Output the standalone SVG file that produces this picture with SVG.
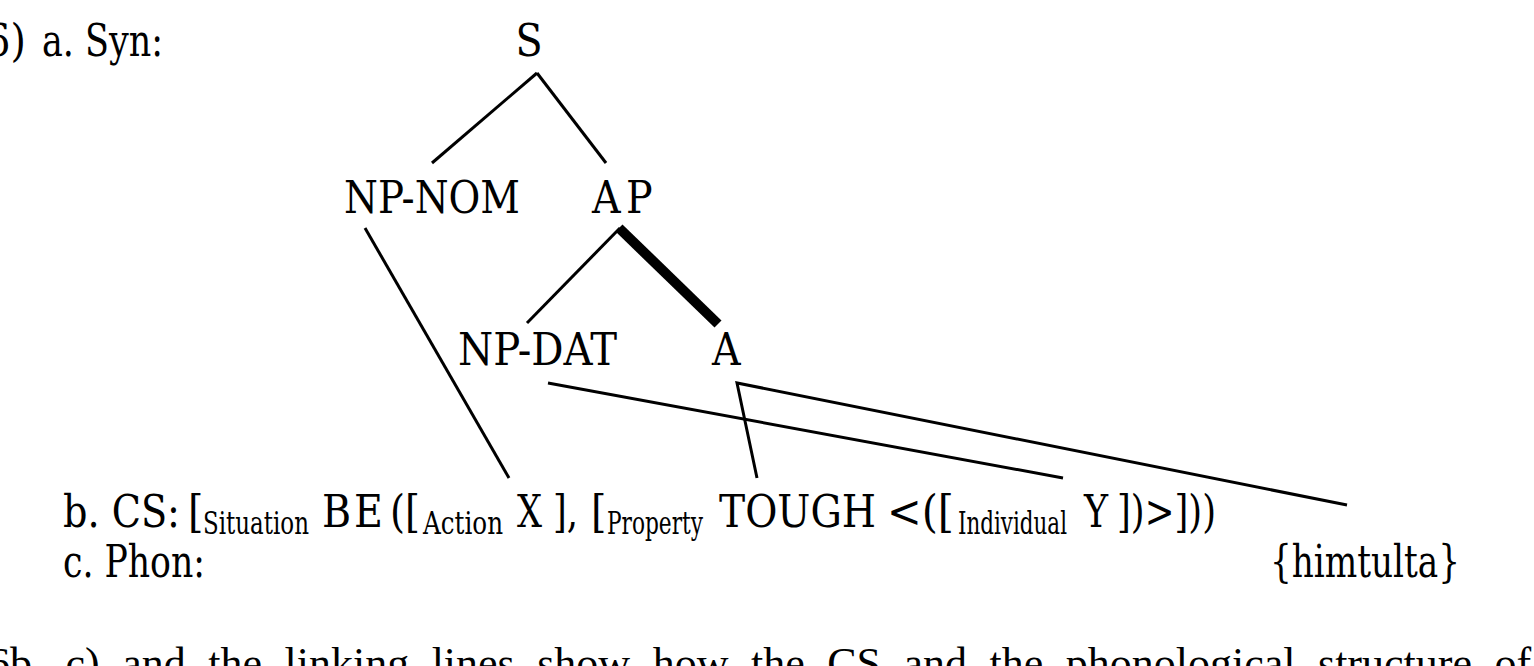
<svg xmlns="http://www.w3.org/2000/svg" width="1534" height="666" viewBox="0 0 1534 666">
<style>
.t{font-family:"DejaVu Serif Condensed","DejaVu Serif",serif;font-size:44px;fill:#000}
.s{font-family:"DejaVu Serif Condensed","DejaVu Serif",serif;font-size:31px;fill:#000}
.b{font-family:"Liberation Serif",serif;font-size:44px;fill:#000;word-spacing:11.5px}
.ln{stroke:#000;stroke-width:3;fill:none;stroke-linecap:butt}
.thick{stroke:#000;stroke-width:10;fill:none}
</style>
<rect width="1534" height="666" fill="#fff"/>
<g id="label-a">
<text class="t" x="26" y="56" text-anchor="end">6)</text>
<text class="t" x="42" y="56" textLength="121" lengthAdjust="spacingAndGlyphs">a. Syn:</text>
</g>
<g id="node-S"><text class="t" x="529" y="56" text-anchor="middle">S</text></g>
<g id="node-NPNOM"><text class="t" x="344" y="213" textLength="176" lengthAdjust="spacingAndGlyphs">NP-NOM</text></g>
<g id="node-AP"><text class="t" y="213"><tspan x="592">A</tspan><tspan x="626">P</tspan></text></g>
<g id="node-NPDAT"><text class="t" x="458" y="365" textLength="159" lengthAdjust="spacingAndGlyphs">NP-DAT</text></g>
<g id="node-A"><text class="t" x="712" y="365">A</text></g>
<g id="node-CS">
<text class="t" x="63" y="527" textLength="117" lengthAdjust="spacingAndGlyphs">b. CS:</text>
<text class="t" x="188" y="527">[</text>
<text class="s" x="203" y="534" textLength="106" lengthAdjust="spacingAndGlyphs">Situation</text>
<text class="t" y="527"><tspan x="322">B</tspan><tspan x="354">E</tspan></text>
<text class="t" x="390" y="527" textLength="30" lengthAdjust="spacingAndGlyphs">([</text>
<text class="s" x="423" y="534" textLength="80" lengthAdjust="spacingAndGlyphs">Action</text>
<text class="t" x="517" y="527" textLength="25" lengthAdjust="spacingAndGlyphs">X</text>
<text class="t" x="553" y="527" textLength="25" lengthAdjust="spacingAndGlyphs">],</text>
<text class="t" x="591" y="527">[</text>
<text class="s" x="607" y="534" textLength="96" lengthAdjust="spacingAndGlyphs">Property</text>
<text class="t" x="719" y="527" textLength="157" lengthAdjust="spacingAndGlyphs">TOUGH</text>
<text class="t" x="887" y="527" textLength="67" lengthAdjust="spacingAndGlyphs">&lt;([</text>
<text class="s" x="958" y="534" textLength="109" lengthAdjust="spacingAndGlyphs">Individual</text>
<text class="t" x="1084" y="527" textLength="24" lengthAdjust="spacingAndGlyphs">Y</text>
<text class="t" x="1117" y="527" textLength="99" lengthAdjust="spacingAndGlyphs">])&gt;]))</text>
</g>
<g id="node-Phon">
<text class="t" x="63" y="577" textLength="142" lengthAdjust="spacingAndGlyphs">c. Phon:</text>
<text class="t" x="1270" y="577" textLength="190" lengthAdjust="spacingAndGlyphs">{himtulta}</text>
</g>
<g id="connectors">
<line class="ln" x1="537" y1="73" x2="432" y2="163"/>
<line class="ln" x1="537" y1="73" x2="606" y2="163"/>
<line class="ln" x1="620" y1="228" x2="527" y2="323"/>
<line class="thick" x1="619" y1="228" x2="718" y2="324"/>
<line class="ln" x1="365" y1="228" x2="509" y2="478"/>
<line class="ln" x1="548" y1="383" x2="1063" y2="478"/>
<polyline class="ln" points="757,478 737,383 1347,505"/>
</g>
<g id="caption">
<text class="b" x="-12" y="678">6b, c) and the linking lines show how the CS and the phonological structure of</text>
</g>
</svg>
